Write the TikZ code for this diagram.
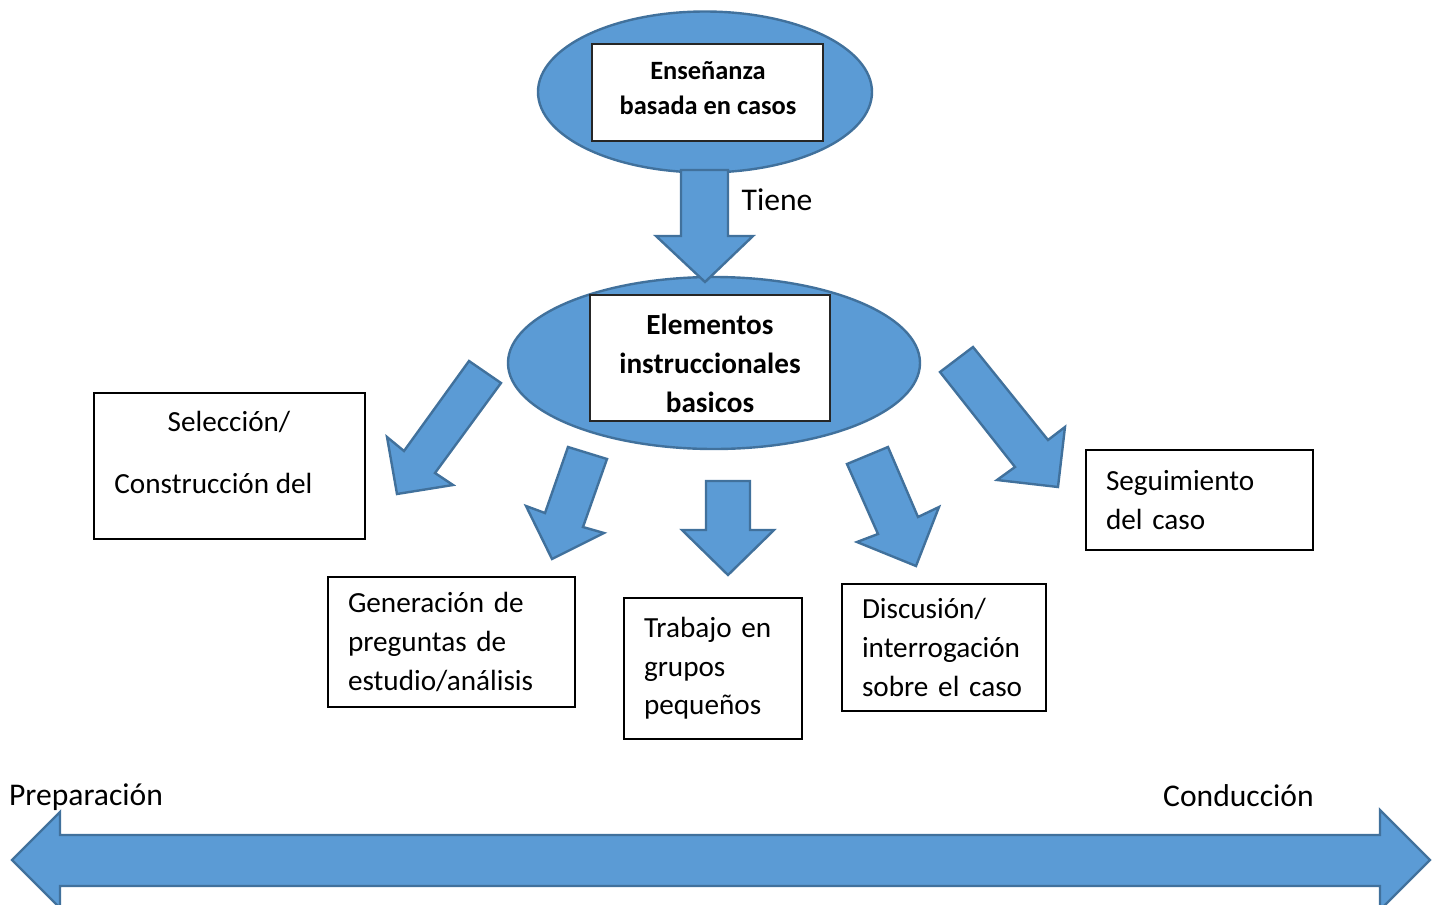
\documentclass[tikz,border=0pt]{standalone}
\usepackage{fontspec}
\setmainfont{Carlito}
\usetikzlibrary{shapes.geometric}

\definecolor{fillblue}{HTML}{5B9BD5}
\definecolor{lineblue}{HTML}{41719C}

\tikzset{
	blob/.style={ellipse, draw=lineblue, fill=fillblue, line width=1.2pt, inner sep=0pt},
	bigarrow/.style={draw=lineblue, fill=fillblue, line width=1.2pt, line join=miter},
	titlebox/.style={draw=black!85, fill=white, line width=0.8pt, inner sep=0pt},
	casebox/.style={draw, fill=white, line width=0.6pt, align=left, inner xsep=10pt, inner ysep=0pt, font=\normaltxt},
}
\newcommand{\normaltxt}{\fontsize{14.6}{19.3}\selectfont}
\newcommand{\bigtxt}{\fontsize{15.8}{19.5}\selectfont}

\begin{document}
\begin{tikzpicture}[x=0.5pt, y=-0.5pt]
	\clip (0,0) rectangle (1437,905);

	% top
	\node[blob, minimum width=167pt, minimum height=80.5pt] (topblob) at (705,92) {};
	\node[titlebox, minimum width=115.5pt, minimum height=48.5pt] (ensenanza) at (707.5,92.5) {};
	\node[align=center, font=\bfseries\fontsize{13.2}{17.5}\selectfont] (ensenanzatxt) at (708,88) {Enseñanza\\basada en casos};

	\node[blob, minimum width=206pt, minimum height=86pt] (midblob) at (714,363) {};
	\node[titlebox, minimum width=120pt, minimum height=63pt] (elementos) at (710,358) {};
	\node[align=center, font=\bfseries\fontsize{14.6}{19.5}\selectfont] (elementostxt) at (710,363.5) {Elementos\\instruccionales\\basicos};

	\draw[bigarrow] (681,170) -- (728,170) -- (728,236) -- (753,236) -- (705,282) -- (656,236) -- (681,236) -- cycle;
	\node[font=\bigtxt] (tiene) at (777,200) {Tiene};

	% arrows to the boxes
	\draw[bigarrow] (469,361) -- (501,383) -- (435,473) -- (453,485) -- (397,494) -- (387,437) -- (404,451) -- cycle;
	\draw[bigarrow] (568,447) -- (607,459) -- (583,527) -- (604,533) -- (552,559) -- (526,506) -- (545,513) -- cycle;
	\draw[bigarrow] (706,481) -- (750,481) -- (750,530) -- (774,530) -- (728,575) -- (682,530) -- (706,530) -- cycle;
	\draw[bigarrow] (847,464) -- (888,447) -- (918,517) -- (939,507) -- (916,566) -- (857,542) -- (878,534) -- cycle;
	\draw[bigarrow] (940,372) -- (973,347) -- (1048,440) -- (1065,427) -- (1058,487) -- (997,480) -- (1015,467) -- cycle;

	% boxes
	\node[draw, fill=white, line width=0.6pt, minimum width=135.5pt, minimum height=73pt] (seleccion) at (229.5,466) {};
	\node[font=\normaltxt] (sel1) at (229,422) {Selección/};
	\node[font=\normaltxt, anchor=west, inner sep=0pt] (sel2) at (114,483) {Construcción del};

	\node[casebox, minimum width=123.5pt, minimum height=65pt, text width=103.5pt] (generacion) at (451.5,642) {Generación de\\preguntas de\\estudio/análisis};
	\node[casebox, minimum width=89pt, minimum height=70.5pt, text width=69pt] (trabajo) at (713,668.5) {Trabajo en\\grupos\\pequeños};
	\node[casebox, minimum width=102pt, minimum height=63.5pt, text width=82pt] (discusion) at (944,647.5) {Discusión/\\interrogación\\sobre el caso};
	\node[casebox, minimum width=113.5pt, minimum height=50pt, text width=93.5pt] (seguimiento) at (1199.5,500) {Seguimiento\\del caso};

	% bottom
	\draw[bigarrow] (12,860) -- (60,812) -- (60,835) -- (1380,835) -- (1380,810) -- (1430,860) -- (1380,910) -- (1380,886) -- (60,886) -- (60,908) -- cycle;
	\node[font=\bigtxt] (preparacion) at (86,797) {Preparación};
	\node[font=\bigtxt] (conduccion) at (1238.5,796) {Conducción};

\end{tikzpicture}
\end{document}
